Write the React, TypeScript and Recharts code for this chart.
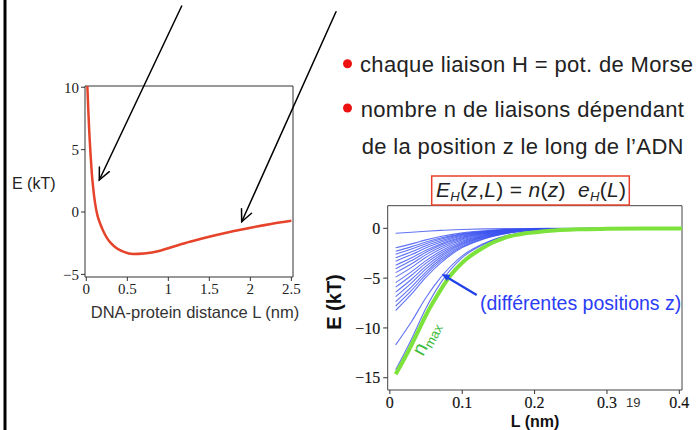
import { LineChart, Line, XAxis, YAxis, ReferenceArea } from "recharts";

// left panel: single bond potential (Morse-like)
const redL = [0.012, 0.024, 0.037, 0.05, 0.066, 0.085, 0.106, 0.135, 0.167, 0.205, 0.249, 0.3, 0.37, 0.45, 0.573, 0.7, 0.8, 0.9, 1.0, 1.2, 1.4, 1.6, 1.8, 2.0, 2.25, 2.5];
const redE = [10.2, 8.2, 6.3, 4.8, 3.2, 1.85, 0.75, -0.25, -0.9, -1.5, -2.05, -2.5, -2.9, -3.17, -3.37, -3.33, -3.25, -3.1, -2.9, -2.5, -2.15, -1.82, -1.52, -1.26, -0.96, -0.7];
const leftXTicks = [0, 0.5, 1, 1.5, 2, 2.5];
const leftYTicks = [-5, 0, 5, 10];

// right panel: n_max curve (green)
const greenL = [0.008, 0.02, 0.03, 0.04, 0.05, 0.06, 0.07, 0.08, 0.09, 0.1, 0.11, 0.12, 0.13, 0.143, 0.155, 0.166, 0.18, 0.19, 0.21, 0.235, 0.26, 0.3, 0.35, 0.404];
const greenE = [-14.65, -13.1, -11.7, -10.2, -8.7, -7.4, -6.2, -5.1, -4.2, -3.45, -2.85, -2.35, -1.9, -1.4, -1.05, -0.8, -0.6, -0.48, -0.32, -0.18, -0.1, -0.05, -0.02, -0.01];

// right panel: blue curves, one per position z, read at these L
const blueL = [0.008, 0.03, 0.05, 0.07, 0.1, 0.13, 0.17, 0.22, 0.3, 0.404];
const blueCurves = [
  [-0.5, -0.4, -0.3, -0.21, -0.12, -0.06, -0.03, -0.01, 0, 0],
  [-1.95, -1.56, -1.16, -0.82, -0.46, -0.25, -0.1, -0.03, -0.01, 0],
  [-2.3, -1.84, -1.37, -0.97, -0.54, -0.3, -0.12, -0.04, -0.01, 0],
  [-2.6, -2.08, -1.54, -1.1, -0.61, -0.34, -0.13, -0.05, -0.01, 0],
  [-2.95, -2.36, -1.75, -1.25, -0.69, -0.38, -0.15, -0.05, -0.01, 0],
  [-3.3, -2.64, -1.96, -1.4, -0.78, -0.43, -0.17, -0.06, -0.01, 0],
  [-3.7, -2.96, -2.2, -1.57, -0.87, -0.48, -0.19, -0.07, -0.01, 0],
  [-4.05, -3.24, -2.41, -1.71, -0.95, -0.53, -0.2, -0.07, -0.01, 0],
  [-4.45, -3.56, -2.64, -1.88, -1.05, -0.58, -0.22, -0.08, -0.02, 0],
  [-4.9, -3.92, -2.91, -2.07, -1.15, -0.64, -0.25, -0.09, -0.02, 0],
  [-5.45, -4.35, -3.24, -2.31, -1.28, -0.71, -0.28, -0.1, -0.02, 0],
  [-5.9, -4.71, -3.5, -2.5, -1.39, -0.77, -0.3, -0.1, -0.02, 0],
  [-6.4, -5.11, -3.8, -2.71, -1.51, -0.83, -0.32, -0.11, -0.02, 0],
  [-6.85, -5.47, -4.07, -2.9, -1.61, -0.89, -0.35, -0.12, -0.02, 0],
  [-7.35, -5.87, -4.37, -3.11, -1.73, -0.95, -0.37, -0.13, -0.02, 0],
  [-7.8, -6.23, -4.63, -3.3, -1.84, -1.01, -0.39, -0.14, -0.03, 0],
  [-8.25, -6.59, -4.9, -3.49, -1.94, -1.07, -0.42, -0.15, -0.03, 0],
  [-11.7, -9.35, -6.95, -4.95, -2.76, -1.52, -0.59, -0.21, -0.04, 0],
  [-14.2, -11.1, -8.0, -5.5, -2.95, -1.6, -0.62, -0.22, -0.04, 0],
];
const rightXTicks = [0, 0.1, 0.2, 0.3, 0.4];
const rightYTicks = [-15, -10, -5, 0];

const redData = redL.map((L, i) => ({ L, E: redE[i] }));
const greenData = greenL.map((L, i) => ({ L, E: greenE[i] }));
const blueData = blueCurves.map((c) => blueL.map((L, i) => ({ L, E: c[i] })));

const SANS = "'Liberation Sans', Arial, sans-serif";
const SERIF = "'Liberation Serif', 'Times New Roman', serif";

const fmtNum = (v: number) => (v < 0 ? `\u2212${-v}` : `${v}`);

function LeftChart() {
  const xd: [number, number] = [-0.016, 2.52];
  const yd: [number, number] = [-5.21, 10.1];
  const tick = { fontFamily: SERIF, fontSize: 15, fill: "#222" };
  return (
    <LineChart width={310} height={300} margin={{ top: 86, right: 17, bottom: 3, left: 45 }}>
      <XAxis
        type="number"
        dataKey="L"
        domain={xd}
        ticks={leftXTicks}
        allowDataOverflow
        axisLine={false}
        tickSize={4}
        tick={tick}
        tickLine={{ stroke: "#333" }}
        height={20}
        interval={0}
      />
      <YAxis
        type="number"
        domain={yd}
        ticks={leftYTicks}
        allowDataOverflow
        axisLine={false}
        tickSize={4}
        tick={tick}
        tickLine={{ stroke: "#333" }}
        tickFormatter={fmtNum}
        width={40}
        interval={0}
      />
      <ReferenceArea x1={xd[0]} x2={xd[1]} y1={yd[0]} y2={yd[1]} fill="none" stroke="#333" strokeWidth={1} ifOverflow="visible" />
      <Line
        data={redData}
        dataKey="E"
        type="monotone"
        stroke="#e5432a"
        strokeWidth={2.5}
        dot={false}
        isAnimationActive={false}
      />
    </LineChart>
  );
}

function RightChart() {
  const xd: [number, number] = [-0.003, 0.4037];
  const yd: [number, number] = [-16.23, 2.27];
  const tick = { fontFamily: SERIF, fontSize: 16, fill: "#111", stroke: "#111", strokeWidth: 0.15 };
  return (
    <LineChart width={369} height={250} margin={{ top: 25.7, right: 17, bottom: 10, left: 17.7 }}>
      <XAxis
        type="number"
        dataKey="L"
        domain={xd}
        ticks={rightXTicks}
        allowDataOverflow
        axisLine={false}
        tickSize={4}
        tickMargin={3}
        tick={tick}
        tickLine={{ stroke: "#333" }}
        height={30}
        interval={0}
      />
      <YAxis
        type="number"
        domain={yd}
        ticks={rightYTicks}
        allowDataOverflow
        axisLine={false}
        tickSize={4.5}
        tickMargin={3}
        tick={tick}
        tickLine={{ stroke: "#333" }}
        tickFormatter={fmtNum}
        width={40}
        interval={0}
      />
      <ReferenceArea x1={xd[0]} x2={xd[1]} y1={yd[0]} y2={yd[1]} fill="none" stroke="#444" strokeWidth={1} ifOverflow="visible" />
      {blueData.map((d, i) => (
        <Line
          key={i}
          data={d}
          dataKey="E"
          type="monotone"
          stroke="#3a50f0"
          strokeOpacity={0.8}
          strokeWidth={1.1}
          dot={false}
          isAnimationActive={false}
        />
      ))}
      <Line
        data={greenData}
        dataKey="E"
        type="monotone"
        stroke="#7de33c"
        strokeWidth={4}
        dot={false}
        isAnimationActive={false}
      />
    </LineChart>
  );
}

function Overlay() {
  return (
    <svg
      width={699}
      height={430}
      style={{ position: "absolute", left: 0, top: 0, pointerEvents: "none", overflow: "hidden" }}
    >
      <rect x={3.5} y={0} width={3} height={430} fill="#000" />

      {/* black arrows toward the red curve */}
      <g stroke="#000" strokeWidth={1.5} fill="none" strokeLinecap="round">
        <line x1={181.7} y1={6} x2={99.3} y2={180} />
        <polyline points="109.3,171.7 99.3,180 99.4,167" />
        <line x1={336} y1={11.7} x2={241.7} y2={221.7} />
        <polyline points="251.5,213.2 241.7,221.7 241.5,208.7" />
      </g>

      <text x={12} y={189} fontFamily={SANS} fontSize={16} fill="#222">E (kT)</text>
      <text x={195} y={318} textAnchor="middle" fontFamily={SANS} fontSize={16.5} fill="#333">
        DNA-protein distance L (nm)
      </text>

      {/* bullets */}
      <circle cx={347.5} cy={63.8} r={4.5} fill="#ee1111" />
      <circle cx={347.5} cy={108} r={4.5} fill="#ee1111" />
      <g fontFamily={SANS} fontSize={22} fill="#222" letterSpacing={0.35}>
        <text x={360} y={72}>chaque liaison H = pot. de Morse</text>
        <text x={360.7} y={116.5}>nombre n de liaisons dépendant</text>
        <text x={361.7} y={154}>de la position z le long de l’ADN</text>
      </g>

      {/* formula box */}
      <rect x={431.7} y={176} width={197.6} height={29} fill="none" stroke="#e8402a" strokeWidth={1.5} />
      <text x={436} y={197} fontFamily={SANS} fontSize={21} fill="#222" xmlSpace="preserve" letterSpacing={0.3}>
        <tspan fontStyle="italic">E</tspan>
        <tspan fontStyle="italic" fontSize={13} dy={4}>H</tspan>
        <tspan dy={-4}>(</tspan>
        <tspan fontStyle="italic">z</tspan>
        <tspan>,</tspan>
        <tspan fontStyle="italic">L</tspan>
        <tspan>) = </tspan>
        <tspan fontStyle="italic">n</tspan>
        <tspan>(</tspan>
        <tspan fontStyle="italic">z</tspan>
        <tspan>)  </tspan>
        <tspan fontStyle="italic">e</tspan>
        <tspan fontStyle="italic" fontSize={13} dy={4}>H</tspan>
        <tspan dy={-4}>(</tspan>
        <tspan fontStyle="italic">L</tspan>
        <tspan>)</tspan>
      </text>

      {/* axis labels of right chart */}
      <text
        x={0}
        y={0}
        transform="translate(341,302) rotate(-90)"
        textAnchor="middle"
        fontFamily={SANS}
        fontSize={20}
        fontWeight="bold"
        fill="#111"
      >
        E (kT)
      </text>
      <text x={535} y={427} textAnchor="middle" fontFamily={SANS} fontSize={16} fontWeight="bold" fill="#111">
        L (nm)
      </text>
      <text x={626} y={407} fontFamily={SANS} fontSize={13} fill="#333">19</text>

      {/* blue annotation */}
      <line x1={476.7} y1={295} x2={447} y2={277.2} stroke="#1f3fe8" strokeWidth={2.2} />
      <polygon points="441.7,274 450.4,275.1 446.8,281.1" fill="#1f3fe8" />
      <text x={480} y={310} fontFamily={SANS} fontSize={19.5} fill="#2b3cf5">
        (différentes positions z)
      </text>

      {/* n_max label */}
      <text transform="translate(423,357) rotate(-62)" fontFamily={SANS} fill="#3dbb3d">
        <tspan fontSize={20}>n</tspan>
        <tspan fontSize={13} dy={4}>max</tspan>
      </text>
    </svg>
  );
}

export default function App() {
  return (
    <div
      style={{
        position: "absolute",
        left: 0,
        top: 0,
        width: 699,
        height: 430,
        background: "#fff",
        overflow: "hidden",
      }}
    >
      <div style={{ position: "absolute", left: 0, top: 0 }}>
        <LeftChart />
      </div>
      <div style={{ position: "absolute", left: 330, top: 180 }}>
        <RightChart />
      </div>
      <Overlay />
    </div>
  );
}
